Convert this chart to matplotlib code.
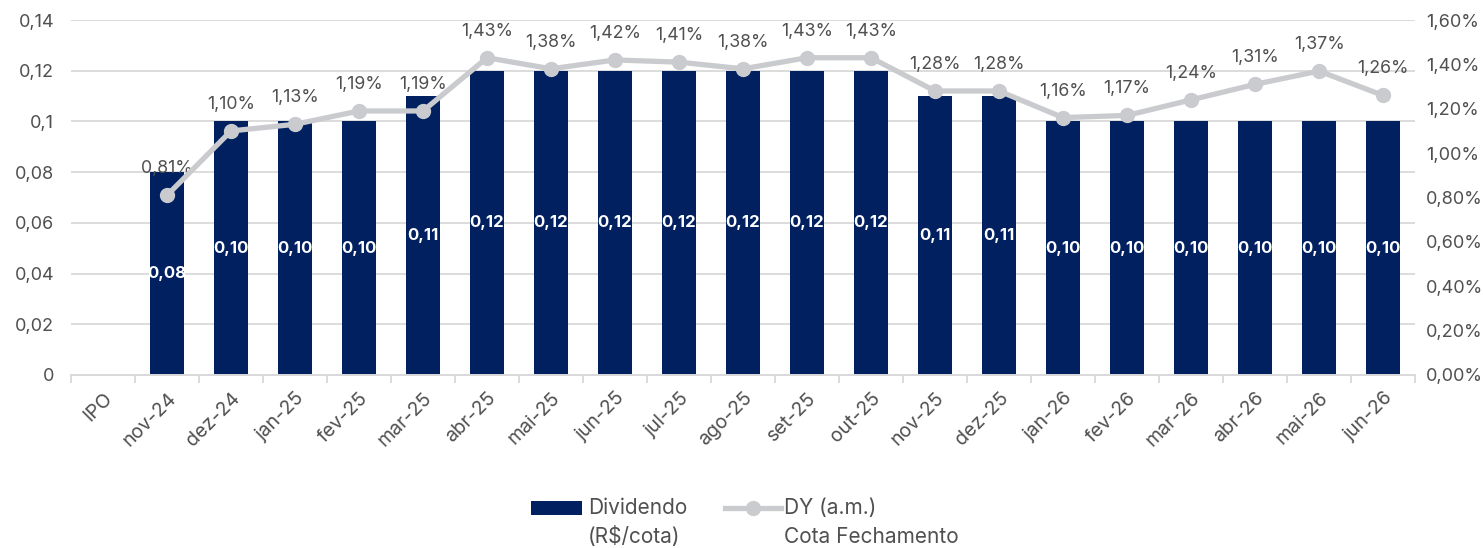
import matplotlib
matplotlib.use("Agg")
import matplotlib.pyplot as plt
import numpy as np
from matplotlib.ticker import FuncFormatter, MultipleLocator
from matplotlib.patches import Rectangle
from matplotlib.lines import Line2D

plt.rcParams['font.family'] = ['Inter', 'DejaVu Sans']

categories = ["IPO", "nov-24", "dez-24", "jan-25", "fev-25", "mar-25", "abr-25", "mai-25",
              "jun-25", "jul-25", "ago-25", "set-25", "out-25", "nov-25", "dez-25",
              "jan-26", "fev-26", "mar-26", "abr-26", "mai-26", "jun-26"]
dividendo = [None, 0.08, 0.10, 0.10, 0.10, 0.11, 0.12, 0.12, 0.12, 0.12, 0.12, 0.12, 0.12,
             0.11, 0.11, 0.10, 0.10, 0.10, 0.10, 0.10, 0.10]
dy = [None, 0.81, 1.10, 1.13, 1.19, 1.19, 1.43, 1.38, 1.42, 1.41, 1.38, 1.43, 1.43,
      1.28, 1.28, 1.16, 1.17, 1.24, 1.31, 1.37, 1.26]
legend_labels = [["Dividendo", "(R$/cota)"], ["DY (a.m.)", "Cota Fechamento"]]

bar_color = "#002060"
line_color = "#C9CBCE"
text_color = "#505050"

W, H = 1483, 548
fig = plt.figure(figsize=(W / 100, H / 100), dpi=100)
ax = fig.add_axes([0.0479, 0.3157, 0.9063, 0.6478])
ax2 = ax.twinx()

x = np.arange(len(categories))
bar_x = [i for i, v in enumerate(dividendo) if v is not None]
bar_v = [v for v in dividendo if v is not None]
ax.bar(bar_x, bar_v, width=0.54, color=bar_color, zorder=2)
for xi, v in zip(bar_x, bar_v):
    ax.text(xi, v / 2, f"{v:.2f}".replace(".", ","), ha="center", va="center",
            color="white", fontsize=12, fontweight="bold", zorder=3)

ax.set_xlim(-0.5, len(categories) - 0.5)
ax.set_ylim(0, 0.14)
ax.yaxis.set_major_locator(MultipleLocator(0.02))
def lfmt(v, p):
    if abs(v) < 1e-9:
        return "0"
    s = f"{v:.2f}".rstrip("0")
    return s.replace(".", ",")
ax.yaxis.set_major_formatter(FuncFormatter(lfmt))
ax.grid(axis="y", color="#D9D9D9", linewidth=1.3, zorder=0)
ax.set_axisbelow(True)

line_x = [i for i, v in enumerate(dy) if v is not None]
line_v = [v for v in dy if v is not None]
ax2.plot(line_x, line_v, color=line_color, linewidth=3.8, marker="o", markersize=10,
         zorder=4)
for xi, v in zip(line_x, line_v):
    ax2.annotate(f"{v:.2f}%".replace(".", ","), (xi, v), xytext=(0, 13),
                 textcoords="offset points", ha="center", va="bottom",
                 color=text_color, fontsize=12.8)
ax2.set_ylim(0, 1.6)
ax2.yaxis.set_major_locator(MultipleLocator(0.2))
ax2.yaxis.set_major_formatter(FuncFormatter(lambda v, p: f"{v:.2f}%".replace(".", ",")))

ax.set_xticks(x)
ax.set_xticklabels(categories, rotation=45, ha="right", rotation_mode="anchor",
                   color=text_color, fontsize=14)
ax.set_xticks(np.arange(-0.5, len(categories), 1), minor=True)
ax.tick_params(axis="x", which="major", length=0, pad=10)
ax.tick_params(axis="x", which="minor", length=6, color="#D9D9D9", width=1.3)
ax.tick_params(axis="y", length=0, labelcolor=text_color, labelsize=13, pad=12)
ax2.tick_params(axis="y", length=0, labelcolor=text_color, labelsize=13, pad=8)

for a in (ax, ax2):
    for s in ("top", "left", "right"):
        a.spines[s].set_visible(False)
    a.spines["bottom"].set_color("#D9D9D9")
    a.spines["bottom"].set_linewidth(1.3)
ax2.patch.set_visible(False)

# Legend (drawn in figure pixel coordinates, Excel style)
def fx(px):
    return px / W
def fy(py):
    return (H - py) / H

fig.patches.append(Rectangle((fx(531), fy(515)), fx(582) - fx(531), fy(501) - fy(515),
                             transform=fig.transFigure, facecolor=bar_color,
                             edgecolor="none"))
fig.lines.append(Line2D([fx(725), fx(781)], [fy(508), fy(508)], transform=fig.transFigure,
                        color=line_color, linewidth=3.8))
fig.lines.append(Line2D([fx(753)], [fy(508)], transform=fig.transFigure,
                        color=line_color, marker="o", markersize=10))
for (l1, l2), tx in zip(legend_labels, [588, 784]):
    fig.text(fx(tx), fy(508), l1, ha="left", va="center", fontsize=15, color=text_color)
    fig.text(fx(tx), fy(537), l2, ha="left", va="center", fontsize=15, color=text_color)

fig.savefig("out.png", dpi=100)
